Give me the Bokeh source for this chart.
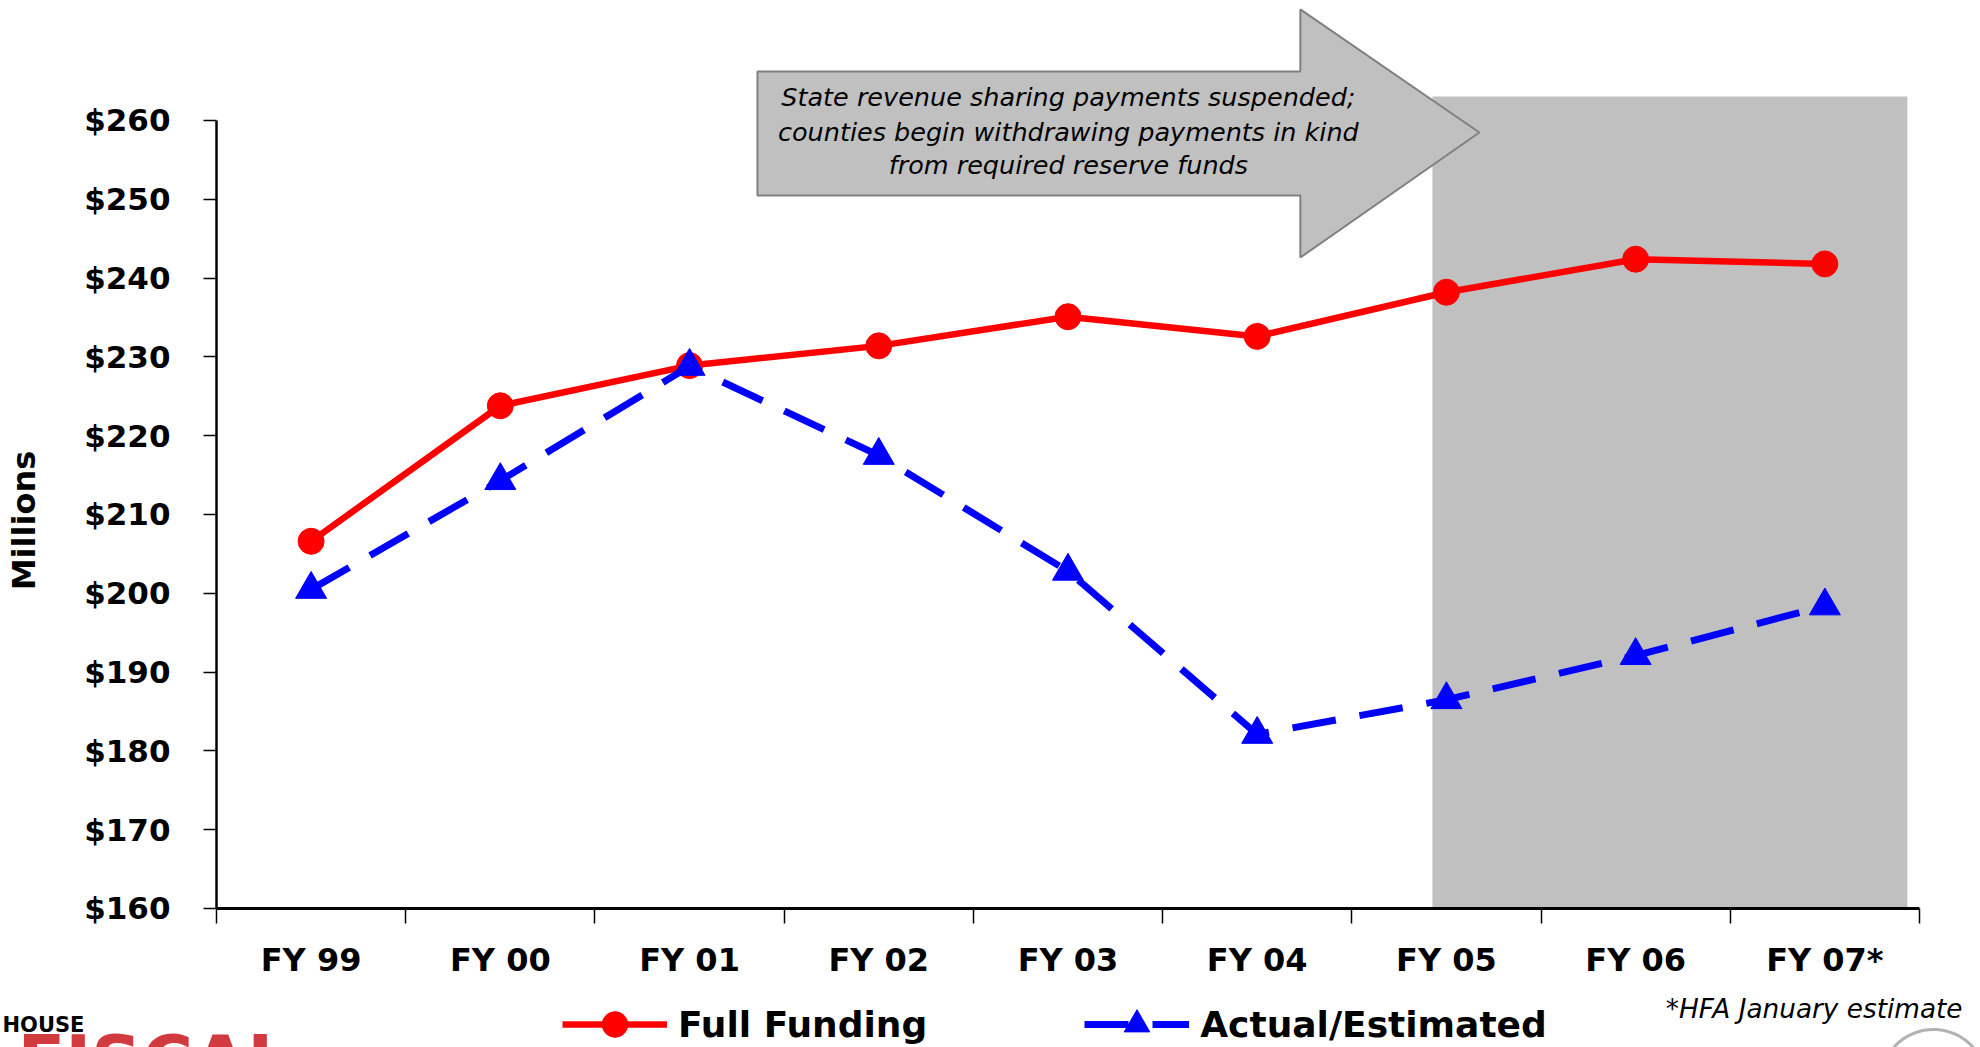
import numpy as np
from bokeh.plotting import figure
from bokeh.models import (Range1d, FixedTicker, Legend, LegendItem, Label,
                          PolyAnnotation)
from bokeh.embed import file_html
from bokeh.resources import INLINE
from bokeh.core.properties import value

# ---------------- data ----------------
categories = ["FY 99", "FY 00", "FY 01", "FY 02", "FY 03", "FY 04", "FY 05", "FY 06", "FY 07*"]
full_funding = [206.6, 223.8, 228.9, 231.4, 235.1, 232.6, 238.2, 242.4, 241.8]
actual_estimated = [200.5, 214.3, 228.8, 217.5, 202.8, 182.1, 186.5, 192.1, 198.4]
y_ticks = [160, 170, 180, 190, 200, 210, 220, 230, 240, 250, 260]
y_tick_labels = ["$160", "$170", "$180", "$190", "$200", "$210", "$220", "$230", "$240", "$250", "$260"]
series_names = ["Full Funding", "Actual/Estimated"]
y_title = "Millions"
arrow_text = ["State revenue sharing payments suspended;",
              "counties begin withdrawing payments in kind",
              "from required reserve funds"]
footnote = "*HFA January estimate"

# ---------------- layout ----------------
FONT = "DejaVu Sans"
W, H = 1975, 1047
n = len(categories)
xc = [i + 0.5 for i in range(n)]

# the frame covers the whole canvas; axes are pinned with fixed_location
X0, X1 = -1.1415, 9.2961
Y0, Y1 = 142.36, 275.228

p = figure(width=W, height=H,
           x_range=Range1d(X0, X1), y_range=Range1d(Y0, Y1),
           output_backend="svg", toolbar_location=None,
           min_border_left=0, min_border_right=0,
           min_border_top=0, min_border_bottom=0)
p.title.visible = False
p.outline_line_color = None
p.xgrid.visible = False
p.ygrid.visible = False
p.background_fill_color = "white"
p.border_fill_color = "white"

# shaded estimate region
p.quad(left=[6.426], right=[8.936], bottom=[160], top=[263.05],
       fill_color="#c0c0c0", line_color=None)

# arrow callout
arrow_x = [2.859, 2.859, 5.728, 5.728, 6.674, 5.728, 5.728]
arrow_y = [250.48, 266.22, 266.22, 274.1, 258.48, 242.61, 250.48]
p.patch(arrow_x, arrow_y, fill_color="#c0c0c0", line_color="#808080", line_width=2)
p.text(x=[4.502] * 3, y=[262.92, 258.48, 254.3], text=arrow_text,
       text_font=value(FONT), text_font_style="italic", text_font_size="25.5px",
       text_align="center", text_baseline="middle", text_color="black")

# series
r1 = p.line(xc, full_funding, line_color="#ff0000", line_width=6.5)
r1m = p.scatter(xc, full_funding, marker="circle", size=26,
                fill_color="#ff0000", line_color="#ff0000")
r2 = p.line(xc, actual_estimated, line_color="#0000ff", line_width=7, line_dash="44 24")
r2m = p.scatter(xc, actual_estimated, marker="triangle", size=31,
                fill_color="#0000ff", line_color="#0000ff")

# axes (pinned inside the frame)
xa = p.xaxis[0]
xa.fixed_location = 160
xa.bounds = (0, n)
xa.ticker = FixedTicker(ticks=xc, minor_ticks=list(range(n + 1)))
xa.major_label_overrides = {x: c for x, c in zip(xc, categories)}
xa.major_tick_out = 0
xa.major_tick_in = 0
xa.minor_tick_out = 15
xa.minor_tick_in = 0
xa.minor_tick_line_color = "black"
xa.minor_tick_line_width = 1.5
xa.axis_line_color = "black"
xa.axis_line_width = 3
xa.major_label_standoff = 18
xa.major_label_text_font = FONT
xa.major_label_text_font_style = "bold"
xa.major_label_text_font_size = "32px"
xa.major_label_text_color = "black"

ya = p.yaxis[0]
ya.fixed_location = 0
ya.ticker = FixedTicker(ticks=y_ticks)
ya.major_label_overrides = {t: s for t, s in zip(y_ticks, y_tick_labels)}
ya.bounds = (160, 260)
ya.major_tick_out = 13
ya.major_tick_in = 0
ya.major_tick_line_color = "black"
ya.major_tick_line_width = 1.5
ya.minor_tick_line_color = None
ya.axis_line_color = "black"
ya.axis_line_width = 2.5
ya.major_label_standoff = 33
ya.major_label_text_font = FONT
ya.major_label_text_font_style = "bold"
ya.major_label_text_font_size = "31px"
ya.major_label_text_color = "black"

# y title
p.add_layout(Label(x=-1.0147, y=209.24, text=y_title, angle=np.pi / 2,
                   text_align="center", text_baseline="middle",
                   text_font=FONT, text_font_style="bold", text_font_size="32px",
                   text_color="black"))

# legend
legend = Legend(items=[LegendItem(label=series_names[0], renderers=[r1, r1m]),
                       LegendItem(label=series_names[1], renderers=[r2, r2m])],
                location=(562, -9), orientation="horizontal",
                glyph_width=105, glyph_height=64, label_standoff=11, spacing=157,
                padding=0, margin=0, border_line_color=None,
                background_fill_alpha=0,
                label_text_font=FONT, label_text_font_style="bold",
                label_text_font_size="36px", label_text_color="black")
p.add_layout(legend, "center")

# footnote
p.add_layout(Label(x=9.2273, y=147.2, text=footnote, text_align="right",
                   text_baseline="alphabetic", text_font=FONT,
                   text_font_style="italic", text_font_size="26.3px", text_color="black"))

# logo (cut off at page bottom)
p.add_layout(Label(x=-1.1309, y=145.2, text="HOUSE", text_align="left",
                   text_baseline="alphabetic", text_font=FONT,
                   text_font_style="bold", text_font_size="21px", text_color="black"))
p.add_layout(Label(x=-1.0517, y=145.9, text="FISCAL", text_align="left",
                   text_baseline="top", text_font=FONT,
                   text_font_style="bold", text_font_size="70px", text_color="#d13b40"))

# page-number circle (cut off)
t = np.linspace(0, 2 * np.pi, 80)
p.add_layout(PolyAnnotation(xs=list(9.074 + 0.2801 * np.cos(t)),
                            ys=list(137.92 + 6.726 * np.sin(t)),
                            fill_alpha=0, line_color="black", line_width=3))

open("out.html", "w").write(file_html(p, INLINE))
